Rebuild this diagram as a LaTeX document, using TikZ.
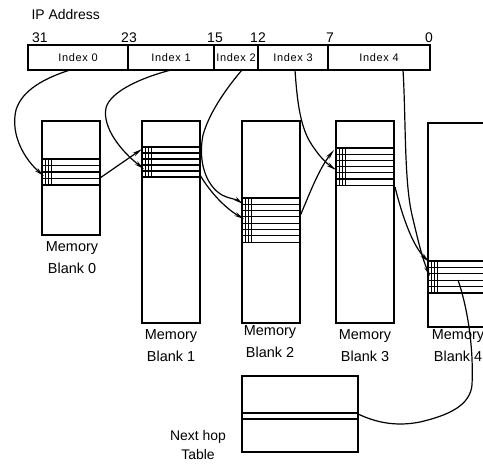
\documentclass[tikz,border=0pt]{standalone}
\usepackage{fontspec}
\setmainfont{Liberation Sans}
\newfontfamily\idxfont[LetterSpace=6]{Liberation Sans}
\usetikzlibrary{arrows.meta}

% rows of one memory bank: x left, x right, y top, number of rows, row height
\newcommand{\bankrows}[5]{%
  \foreach \i in {0,...,#4}
    \draw (#1,#3+\i*#5) -- (#2,#3+\i*#5);
  \foreach \dx in {3.5,6.5,9.5}
    \draw (#1+\dx,#3) -- (#1+\dx,#3+#4*#5);
}

\tikzset{
  field/.style={draw, minimum height=25bp, anchor=north west, inner sep=0pt, outer sep=0pt,
                font=\idxfont\fontsize{11}{12}\selectfont},
  bank/.style={draw, minimum width=58bp, anchor=north west, inner sep=0pt, outer sep=0pt},
  bitno/.style={anchor=base, inner sep=0pt, font=\fontsize{14}{16}\selectfont},
  caption/.style={align=center, inner sep=0pt, font=\fontsize{14.5}{22}\selectfont},
  link/.style={-{Stealth[length=10bp,width=4bp]}},
}

\begin{document}
\begin{tikzpicture}[x=1bp, y=-1bp, line width=1.2bp]
\useasboundingbox (0,0) rectangle (483,464);
\clip (0,0) rectangle (483,464);

% IP address fields
\node[anchor=base west, inner sep=0pt, font=\fontsize{14}{16}\selectfont] (iplabel) at (31,20) {IP Address};
\node[field, minimum width=100bp] (ip0) at (28,45) {Index 0};
\node[field, minimum width=86bp] (ip1) at (128,45) {Index 1};
\node[field, minimum width=44bp] (ip2) at (214,45) {Index 2};
\node[field, minimum width=70bp] (ip3) at (258,45) {Index 3};
\node[field, minimum width=102bp] (ip4) at (328,45) {Index 4};

% bit positions
\node[bitno] (b31) at (40,43) {31};
\node[bitno] (b23) at (129,43) {23};
\node[bitno] (b15) at (215,43) {15};
\node[bitno] (b12) at (258,43) {12};
\node[bitno] (b7) at (330,43) {7};
\node[bitno] (b0) at (429,43) {0};

% memory banks
\node[bank, minimum height=114bp] (mb0) at (42,121) {};
\node[bank, minimum height=202bp] (mb1) at (142,121) {};
\node[bank, minimum height=202bp] (mb2) at (242,121) {};
\node[bank, minimum height=202bp] (mb3) at (336,121) {};
\node[bank, minimum height=204bp, minimum width=80bp] (mb4) at (428,123) {};

\bankrows{42}{100}{159}{4}{6.5}
\bankrows{142}{200}{147}{5}{6}
\bankrows{242}{300}{198}{7}{6.3}
\bankrows{336}{394}{148}{6}{6.2}
\bankrows{428}{508}{261}{5}{6.4}

\node[caption] (cap0) at (72,258) {Memory\\Blank 0};
\node[caption] (cap1) at (171,346) {Memory\\Blank 1};
\node[caption] (cap2) at (270,342) {Memory\\Blank 2};
\node[caption] (cap3) at (365,346) {Memory\\Blank 3};
\node[caption] (cap4) at (458,346) {Memory\\Blank 4};

% next hop table
\node[draw, minimum width=116bp, minimum height=76bp, anchor=north west, inner sep=0pt, outer sep=0pt] (nht) at (242,376) {};
\draw (nht.west |- 0,413) -- (nht.east |- 0,413);
\draw (nht.west |- 0,419) -- (nht.east |- 0,419);
\node[caption, font=\fontsize{14}{19}\selectfont] (nhtlabel) at (198,445) {Next hop\\Table};

% link ends
\coordinate (in0) at (44,176);
\coordinate (out0) at (100,178);
\coordinate (in1a) at (142,149);
\coordinate (in1b) at (144,169);
\coordinate (out1) at (200,175);
\coordinate (in2a) at (243,204);
\coordinate (in2b) at (244,219);
\coordinate (out2) at (300,216);
\coordinate (in3a) at (334,150);
\coordinate (in3b) at (336,170);
\coordinate (out3) at (395,187);
\coordinate (in4a) at (429,262);
\coordinate (in4b) at (430,276);
\coordinate (out4) at (458,280);

% links
\draw[link] ([xshift=-8bp]ip0.south) .. controls (45,78) and (22,90) .. (16,110)
  .. controls (10,135) and (25,160) .. (in0);
\draw[link] (out0) -- (in1a);
\draw[link] (ip1.south) .. controls (140,78) and (110,92) .. (106,108)
  .. controls (102,128) and (122,152) .. (in1b);
\draw[link] ([xshift=6bp]ip2.south) .. controls (230,84) and (210,110) .. (203,135)
  .. controls (198,160) and (205,185) .. (222,195) .. controls (230,199) and (236,199) .. (in2a);
\draw[link] (out1) .. controls (210,192) and (225,208) .. (in2b);
\draw[link] (out2) .. controls (308,198) and (318,170) .. (in3a);
\draw[link] ([xshift=2bp]ip3.south) .. controls (297,100) and (300,125) .. (310,142)
  .. controls (318,155) and (326,163) .. (in3b);
\draw[link] (out3) .. controls (402,215) and (412,245) .. (in4a);
\draw[link] ([xshift=24bp]ip4.south) .. controls (406,120) and (404,180) .. (412,215)
  .. controls (418,240) and (422,258) .. (in4b);
\draw (out4) .. controls (465,300) and (474,340) .. (472,385)
  .. controls (470,405) and (450,415) .. (420,422) .. controls (395,427) and (375,422) .. (nht.east);

\end{tikzpicture}
\end{document}
